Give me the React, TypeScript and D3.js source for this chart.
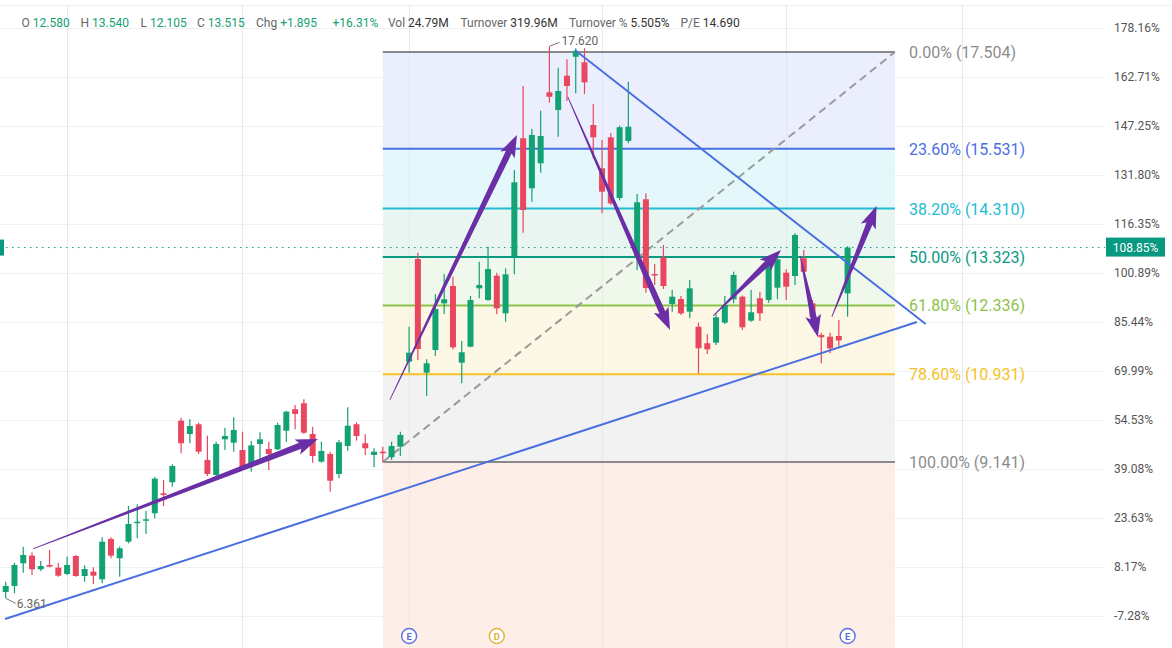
import React, { useEffect } from 'react';
import * as d3 from 'd3';

const W = 1172;
const H = 648;

// ---- candle data (index 0..96) ----
const opens = [6.49, 6.613, 7.075, 7.231, 6.953, 7.041, 6.986, 6.857, 7.224, 6.816, 6.904, 6.749, 7.571, 7.178, 7.516, 7.904, 7.944, 8.096, 8.503, 8.728,
  9.984, 9.713, 9.911, 9.183, 8.877, 9.604, 9.535, 9.386, 9.101, 9.509, 9.407, 9.4, 9.78, 10.217, 10.339, 9.713, 9.148, 9.305, 8.897, 9.468,
  9.911, 9.523, 9.285, 9.352, 9.238, 9.454, 11.188, 13.282, 10.963, 11.426, 12.378, 12.731, 11.167, 11.493, 12.684, 12.446, 12.942, 12.174, 13.343, 15.744,
  14.724, 15.234, 16.682, 16.321, 17.021, 17.408, 17.294, 16.015, 15.132, 15.764, 14.526, 15.69, 13.317, 14.5, 12.976, 13.317, 12.364, 12.466, 12.207, 11.901,
  11.563, 11.575, 11.983, 12.46, 12.513, 12.024, 12.481, 12.446, 12.697, 13.003, 12.935, 13.296, 12.378, 11.732, 11.697, 11.712, 12.58];
const highs = [6.7, 7.088, 7.414, 7.3, 7.122, 7.347, 7.088, 7.21, 7.245, 7.035, 6.994, 7.606, 7.606, 7.42, 8.244, 8.279, 8.143, 8.842, 8.775, 9.095,
  10.045, 10.013, 9.943, 9.678, 9.555, 9.841, 10.053, 9.76, 9.57, 9.747, 9.555, 9.943, 10.188, 10.304, 10.421, 9.862, 9.555, 9.352, 9.59, 10.257,
  9.951, 9.706, 9.421, 9.454, 9.555, 9.76, 11.901, 13.411, 11.237, 12.562, 12.97, 12.921, 11.609, 12.527, 13.227, 13.533, 13.0, 13.092, 15.097, 16.811,
  15.934, 16.307, 17.62, 17.184, 17.355, 17.579, 17.58, 16.443, 15.709, 15.85, 16.0, 16.898, 14.608, 14.622, 13.18, 13.567, 12.65, 12.527, 12.854, 11.983,
  11.746, 12.174, 12.527, 13.023, 12.54, 12.65, 12.615, 13.329, 13.398, 13.072, 13.806, 13.465, 12.446, 11.779, 11.779, 12.038, 13.54];
const lows = [6.361, 6.464, 6.884, 6.837, 6.919, 6.994, 6.802, 6.837, 6.802, 6.7, 6.653, 6.668, 7.178, 6.802, 7.483, 7.585, 7.673, 7.994, 8.244, 8.638,
  9.319, 9.523, 9.305, 8.856, 8.842, 9.386, 9.352, 9.013, 8.944, 9.217, 8.979, 9.386, 9.555, 9.809, 9.713, 9.128, 9.128, 8.536, 8.809, 9.372,
  9.576, 9.285, 9.034, 9.141, 9.183, 9.264, 10.963, 11.222, 10.488, 11.304, 12.16, 11.44, 10.747, 11.481, 12.481, 12.432, 12.154, 12.003, 12.97, 13.818,
  14.451, 15.042, 16.47, 15.777, 16.505, 16.662, 16.647, 15.336, 14.214, 14.383, 14.48, 15.642, 13.058, 12.595, 12.752, 12.67, 12.207, 12.14, 12.072, 10.951,
  11.345, 11.528, 11.956, 12.378, 11.834, 12.003, 12.018, 12.391, 12.46, 12.446, 12.752, 12.956, 12.038, 11.155, 11.359, 11.493, 12.105];
const closes = [6.613, 7.041, 7.245, 6.953, 7.02, 7.006, 6.822, 7.041, 6.816, 6.959, 6.822, 7.516, 7.231, 7.381, 7.877, 7.924, 7.973, 8.801, 8.469, 9.06,
  9.523, 9.876, 9.352, 8.897, 9.509, 9.672, 9.794, 9.034, 9.48, 9.604, 9.305, 9.896, 10.168, 10.121, 9.739, 9.264, 9.366, 8.76, 9.543, 9.882,
  9.672, 9.421, 9.352, 9.319, 9.468, 9.692, 11.371, 11.446, 11.155, 12.262, 12.46, 11.481, 11.379, 12.446, 12.752, 13.078, 12.276, 12.97, 14.846, 14.281,
  15.811, 15.791, 16.592, 16.709, 16.811, 17.524, 16.886, 15.764, 14.655, 14.418, 15.97, 15.98, 14.439, 12.69, 12.95, 12.731, 12.513, 12.174, 12.684, 11.46,
  11.44, 12.093, 12.344, 12.956, 11.889, 12.195, 12.174, 13.174, 13.276, 12.717, 13.771, 13.023, 12.105, 11.685, 11.46, 11.62, 13.515];

// ---- axis ----
const tickPrices = [18, 17, 16, 15, 14, 13, 12, 11, 10, 9, 8, 7, 6];
const tickLabels = ['178.16%', '162.71%', '147.25%', '131.80%', '116.35%', '100.89%', '85.44%', '69.99%', '54.53%', '39.08%', '23.63%', '8.17%', '-7.28%'];
const monthGridIdx = [7, 27, 46, 68, 89, 109];

// ---- fibonacci ----
const fibLabels = ['0.00%', '23.60%', '38.20%', '50.00%', '61.80%', '78.60%', '100.00%'];
const fibPrices = [17.504, 15.531, 14.31, 13.323, 12.336, 10.931, 9.141];
const fibLineColors = ['#8a8a8a', '#4a6fe0', '#22bcd4', '#089981', '#8bc34a', '#f5c227', '#8a8a8a'];
const fibFillColors = ['#e9ecfc', '#e1f6fa', '#e6f4ef', '#eef6e9', '#fdf6e3', '#f1f1f1'];
const fibBelowFill = '#fdede5';
const fibStartIdx = 43;
const fibEndIdx = 101.4;

// ---- drawings ----
const lowerTrend = [[-0.08, 5.94], [103.9, 11.997]];
const upperTrend = [[64.9, 17.545], [104.9, 11.956]];
const arrowFrom = [[3.11, 7.368], [43.8, 10.41], [64.1, 16.586], [80.65, 12.12], [90.6, 13.343], [94.2, 12.1]];
const arrowTo = [[35.6, 9.61], [58.3, 15.81], [75.75, 11.834], [88.4, 13.465], [92.6, 11.69], [99.3, 14.363]];

// ---- header ----
const headerItems: [string, string, string][] = [
  ['O', '12.580', 'g'], ['H', '13.540', 'g'], ['L', '12.105', 'g'], ['C', '13.515', 'g'], ['Chg', '+1.895', 'g'], ['', '+16.31%', 'g'],
  ['Vol', '24.79M', 'd'], ['Turnover', '319.96M', 'd'], ['Turnover %', '5.505%', 'd'], ['P/E', '14.690', 'd'],
];
const headerX = [21.5, 80.5, 140.5, 197, 256, 332.5, 388, 460.5, 569, 680.5];

const events = [[46, 'E'], [56, 'D'], [96, 'E']] as [number, string][];
const lastPrice = 13.515;
const lastLabel = '108.85%';
const highLabel = '17.620';
const lowLabel = '6.361';

const UP = '#13a273';
const DOWN = '#e8475f';
const PURPLE = '#6a2ea6';
const FONT = 'Roboto, "Noto Sans", Arial, sans-serif';

function arrowPath(x0: number, y0: number, x1: number, y1: number) {
  const dx = x1 - x0, dy = y1 - y0;
  const len = Math.hypot(dx, dy);
  const ux = dx / len, uy = dy / len;
  const nx = -uy, ny = ux;
  const hl = 19, hw = 8, sw = 3.2;
  const bx = x1 - ux * hl, by = y1 - uy * hl;
  const pts = [
    [x0 + nx * 0.4, y0 + ny * 0.4],
    [bx + nx * sw, by + ny * sw],
    [bx + nx * hw - ux * 3, by + ny * hw - uy * 3],
    [x1, y1],
    [bx - nx * hw - ux * 3, by - ny * hw - uy * 3],
    [bx - nx * sw, by - ny * sw],
    [x0 - nx * 0.4, y0 - ny * 0.4],
  ];
  return 'M' + pts.map(p => p[0].toFixed(2) + ',' + p[1].toFixed(2)).join('L') + 'Z';
}

export default function App() {
  useEffect(() => { document.body.style.margin = '0'; }, []);
  const x = d3.scaleLinear().domain([0, 96]).range([5.7, 847.6]);
  const y = d3.scaleLinear().domain([6, 18]).range([616.0, 27.7]);
  const plotRight = 1105;
  const fx0 = x(fibStartIdx), fx1 = x(fibEndIdx);
  const bodyW = 6;

  return (
    <svg width={W} height={H} style={{ position: 'absolute', left: 0, top: 0, background: '#fff' }} fontFamily={FONT}>
      <rect x={0} y={0} width={W} height={H} fill="#fff" />
      {/* grid */}
      <line x1={0} x2={W} y1={5.5} y2={5.5} stroke="#f0f0f0" />
      {tickPrices.map((p, i) => (
        <line key={'h' + i} x1={0} x2={plotRight} y1={Math.round(y(p)) + 0.5} y2={Math.round(y(p)) + 0.5} stroke="#f0f1f3" />
      ))}
      {monthGridIdx.map((m, i) => (
        <line key={'v' + i} x1={Math.round(x(m)) + 0.5} x2={Math.round(x(m)) + 0.5} y1={5} y2={H} stroke="#f0f1f3" />
      ))}

      {/* fib fills */}
      {fibFillColors.map((c, i) => (
        <rect key={'ff' + i} x={fx0} width={fx1 - fx0} y={y(fibPrices[i])} height={y(fibPrices[i + 1]) - y(fibPrices[i])} fill={c} opacity={0.9} />
      ))}
      <rect x={fx0} width={fx1 - fx0} y={y(fibPrices[6])} height={H - y(fibPrices[6])} fill={fibBelowFill} opacity={0.9} />
      {monthGridIdx.map((m, i) => (
        <line key={'v2' + i} x1={Math.round(x(m)) + 0.5} x2={Math.round(x(m)) + 0.5} y1={5} y2={H} stroke="#000" strokeOpacity={0.03} />
      ))}
      {fibPrices.map((p, i) => (
        <line key={'fl' + i} x1={fx0} x2={fx1} y1={y(p)} y2={y(p)} stroke={fibLineColors[i]} strokeWidth={2} />
      ))}
      {fibPrices.map((p, i) => (
        <text key={'ft' + i} x={909} y={y(p) + 6} fontSize={16} fill={fibLineColors[i] === '#8a8a8a' ? '#8c8c8c' : fibLineColors[i]}>
          {fibLabels[i] + ' (' + p.toFixed(3) + ')'}
        </text>
      ))}
      <line x1={fx0} y1={y(fibPrices[6])} x2={fx1} y2={y(fibPrices[0])} stroke="#9a9a9a" strokeWidth={2} strokeDasharray="8,5" />

      {/* current price dotted */}
      <line x1={0} x2={plotRight} y1={y(lastPrice)} y2={y(lastPrice)} stroke="#089981" strokeWidth={1} strokeDasharray="1.5,4.5" />
      <rect x={0} y={y(lastPrice) - 8} width={4} height={16} fill="#089981" />

      {/* candles */}
      {opens.map((o, i) => {
        const c = closes[i];
        const up = c >= o;
        const col = up ? UP : DOWN;
        const cx = x(i);
        const top = y(Math.max(o, c));
        const bot = y(Math.min(o, c));
        return (
          <g key={'c' + i}>
            <line x1={cx} x2={cx} y1={y(highs[i])} y2={y(lows[i])} stroke={col} strokeWidth={1.2} />
            <rect x={cx - bodyW / 2} width={bodyW} y={top} height={Math.max(1.5, bot - top)} fill={col} />
          </g>
        );
      })}

      {/* trend lines */}
      <line x1={x(lowerTrend[0][0])} y1={y(lowerTrend[0][1])} x2={x(lowerTrend[1][0])} y2={y(lowerTrend[1][1])} stroke="#4a6fe0" strokeWidth={2} />
      <line x1={x(upperTrend[0][0])} y1={y(upperTrend[0][1])} x2={x(upperTrend[1][0])} y2={y(upperTrend[1][1])} stroke="#4a6fe0" strokeWidth={2} />

      {/* arrows */}
      {arrowFrom.map((a, i) => (
        <path key={'a' + i} d={arrowPath(x(a[0]), y(a[1]), x(arrowTo[i][0]), y(arrowTo[i][1]))} fill={PURPLE} />
      ))}

      {/* high / low labels */}
      <line x1={x(62)} y1={y(17.62)} x2={x(62) + 10} y2={y(17.62) - 4} stroke="#777" strokeWidth={1} />
      <text x={x(62) + 12} y={y(17.62) - 1} fontSize={12} fill="#666">{highLabel}</text>
      <line x1={x(0)} y1={y(6.361)} x2={x(0) + 10} y2={y(6.361) + 5} stroke="#777" strokeWidth={1} />
      <text x={x(0) + 11} y={y(6.361) + 10} fontSize={12} fill="#666">{lowLabel}</text>

      {/* right axis labels */}
      {tickPrices.map((p, i) => (
        <text key={'tl' + i} x={1114} y={y(p) + 4} fontSize={12} fill="#555">{tickLabels[i]}</text>
      ))}
      <rect x={1106} y={y(lastPrice) - 10} width={59} height={19} fill="#089981" />
      <text x={1135.5} y={y(lastPrice) + 4} fontSize={12} fill="#fff" textAnchor="middle">{lastLabel}</text>

      {/* header */}
      {headerItems.map((h, i) => (
        <text key={'hd' + i} x={headerX[i]} y={26.5} fontSize={12}>
          {h[0] ? <tspan fill="#666">{h[0] + ' '}</tspan> : null}
          <tspan fill={h[2] === 'g' ? '#16a072' : '#333'}>{h[1]}</tspan>
        </text>
      ))}

      {/* event markers */}
      {events.map((e, i) => {
        const col = e[1] === 'D' ? '#e2b23a' : '#5a6fe0';
        return (
          <g key={'ev' + i}>
            <circle cx={x(e[0])} cy={636} r={7.5} fill="#fff" stroke={col} strokeWidth={1.4} />
            <text x={x(e[0])} y={639.5} fontSize={9.5} fontWeight="bold" fill={col} textAnchor="middle">{e[1]}</text>
          </g>
        );
      })}
    </svg>
  );
}
